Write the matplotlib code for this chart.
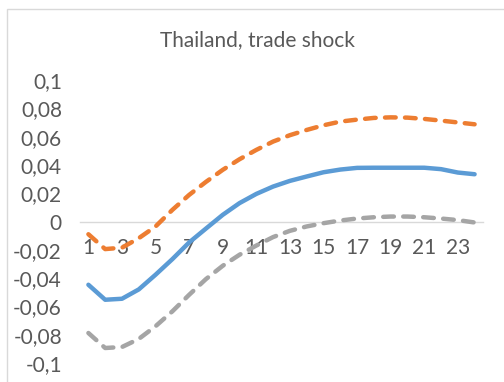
import matplotlib
matplotlib.use('Agg')
import matplotlib.pyplot as plt
from matplotlib.patches import Rectangle
from matplotlib.ticker import FuncFormatter

plt.rcParams['font.family'] = 'Lato'

periods = list(range(1, 25))
response = [-0.0447, -0.0553, -0.0546, -0.0480, -0.0376, -0.0266, -0.0148, -0.0050,
            0.0047, 0.0130, 0.0195, 0.0247, 0.0287, 0.0318, 0.0348, 0.0367,
            0.0379, 0.0380, 0.0380, 0.0380, 0.0380, 0.0370, 0.0346, 0.0334]
upper = [-0.0090, -0.0195, -0.0185, -0.0118, -0.0035, 0.0082, 0.0188, 0.0280,
         0.0365, 0.0440, 0.0506, 0.0565, 0.0610, 0.0647, 0.0680, 0.0706,
         0.0720, 0.0732, 0.0736, 0.0734, 0.0725, 0.0713, 0.0700, 0.0687]
lower = [-0.0788, -0.0894, -0.0887, -0.0830, -0.0740, -0.0635, -0.0518, -0.0407,
         -0.0313, -0.0235, -0.0170, -0.0110, -0.0066, -0.0035, -0.0012, 0.0007,
         0.0021, 0.0030, 0.0035, 0.0035, 0.0030, 0.0021, 0.0010, -0.0007]
y_ticks = [-0.1, -0.08, -0.06, -0.04, -0.02, 0, 0.02, 0.04, 0.06, 0.08, 0.1]
x_ticks = list(range(1, 24, 2))

W, H = 504, 382
fig = plt.figure(figsize=(W / 100, H / 100), dpi=100)
frame = Rectangle((7 / W, -0.1), 1.2, (H - 9) / H + 0.1, transform=fig.transFigure,
                  facecolor='white', edgecolor='#D9D9D9', linewidth=1, zorder=-5)
fig.patches.append(frame)

ax = fig.add_axes([80 / W, 1 - 363 / H, 403 / W, 283 / H])
ax.set_facecolor('none')

lw = 3.2
ax.plot(periods, response, color='#5B9BD5', linewidth=lw, solid_capstyle='round',
        solid_joinstyle='round', zorder=3)
for series, col in [(upper, '#ED7D31'), (lower, '#A5A5A5')]:
    ln, = ax.plot(periods, series, color=col, linewidth=lw, dash_capstyle='round',
                  dash_joinstyle='round', zorder=3)
    ln.set_dashes((2.4, 2.1))

ax.set_xlim(0.5, 24.5)
ax.set_ylim(-0.1, 0.1)
ax.set_yticks(y_ticks)
ax.yaxis.set_major_formatter(FuncFormatter(
    lambda v, p: '0' if abs(v) < 1e-9 else ('%g' % round(v, 2)).replace('.', ',')))
ax.set_xticks(x_ticks)

for s in ['top', 'right', 'left']:
    ax.spines[s].set_visible(False)
ax.spines['bottom'].set_position(('data', 0))
ax.spines['bottom'].set_color('#D9D9D9')
ax.spines['bottom'].set_linewidth(1.0)
ax.spines['bottom'].set_zorder(1)

ax.tick_params(axis='y', length=0, pad=13, labelsize=15, labelcolor='#595959')
ax.tick_params(axis='x', length=0, pad=12, labelsize=15, labelcolor='#595959')

fig.text(257 / W, 1 - 40 / H, 'Thailand, trade shock', ha='center', va='center',
         fontsize=15, color='#595959')

fig.savefig('out.png', dpi=100)
